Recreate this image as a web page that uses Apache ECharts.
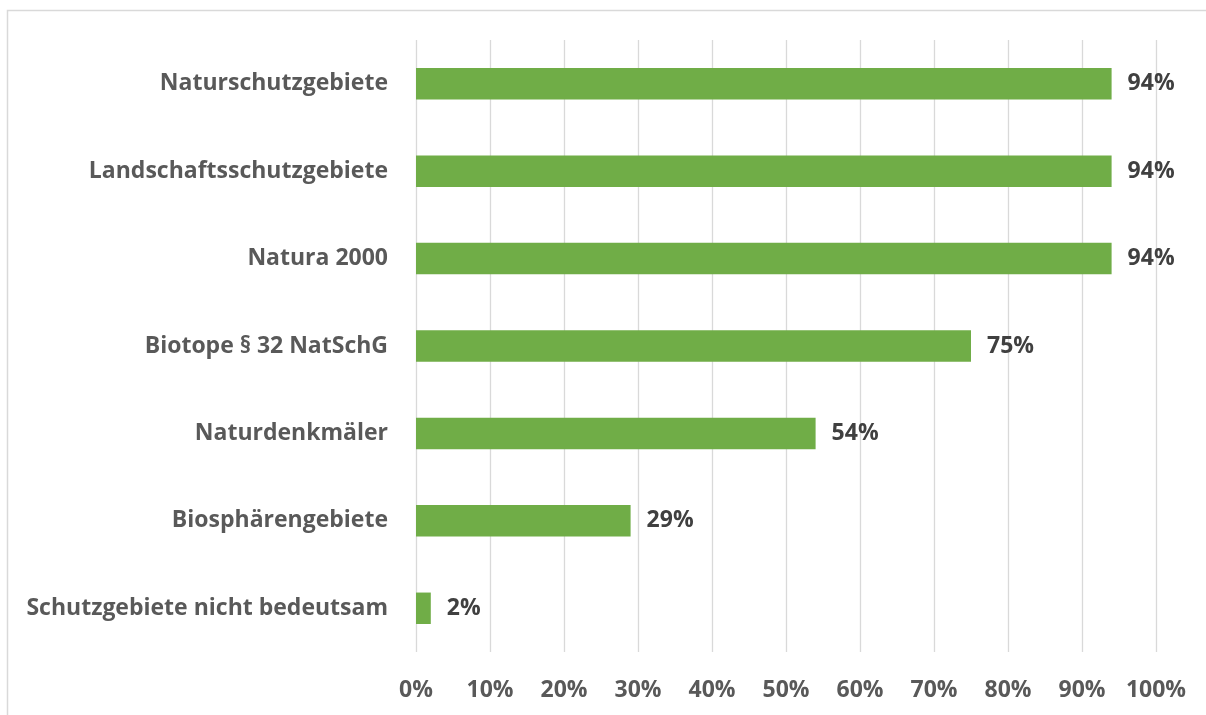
<!DOCTYPE html>
<html><head><meta charset="utf-8">
<script src="https://cdn.jsdelivr.net/npm/echarts@6/dist/echarts.min.js"></script>
<style>html,body{margin:0;padding:0;background:#fff}#c{width:1206px;height:715px}</style>
</head><body><div id="c"></div>
<script>
const categories = ["Naturschutzgebiete","Landschaftsschutzgebiete","Natura 2000","Biotope § 32 NatSchG","Naturdenkmäler","Biosphärengebiete","Schutzgebiete nicht bedeutsam"];
const values = [94,94,94,75,54,29,2];
const tickLabels = ["0%","10%","20%","30%","40%","50%","60%","70%","80%","90%","100%"];

const chart = echarts.init(document.getElementById('c'), null, {renderer:'canvas'});
chart.setOption({
  backgroundColor:'#fff',
  animation:false,
  graphic:[{type:'rect',shape:{x:7.5,y:10.5,width:1220,height:720},style:{fill:'none',stroke:'#d9d9d9',lineWidth:1.5},silent:true}],
  grid:{left:416,right:50,top:40,bottom:63},
  xAxis:{type:'value',min:0,max:100,interval:10,
    axisLine:{show:false},axisTick:{show:false},
    splitLine:{lineStyle:{color:'#d9d9d9',width:1.3}},
    axisLabel:{formatter:v=>tickLabels[Math.round(v/10)],color:'#595959',fontFamily:'Open Sans',fontWeight:'bold',fontSize:23,margin:27}},
  yAxis:{type:'category',inverse:true,data:categories,
    axisLine:{show:false},axisTick:{show:false},
    axisLabel:{color:'#595959',fontFamily:'Open Sans',fontWeight:'bold',fontSize:23,margin:28}},
  series:[{type:'bar',data:values,barWidth:'36%',
    itemStyle:{color:'#70ad47'},
    label:{show:true,position:'right',distance:16,formatter:p=>p.value+'%',color:'#404040',fontFamily:'Open Sans',fontWeight:'bold',fontSize:23}}]
});
</script></body></html>
